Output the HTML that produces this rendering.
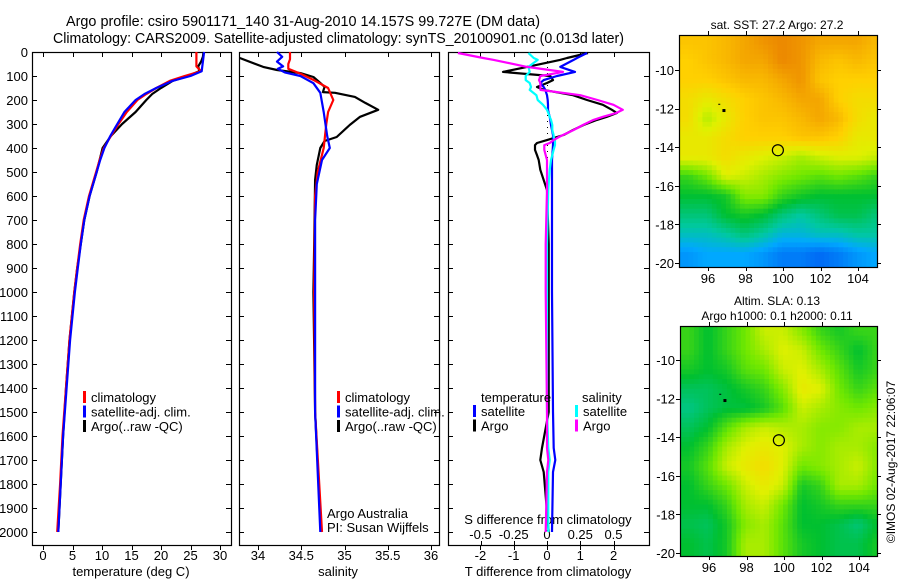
<!DOCTYPE html>
<html><head><meta charset="utf-8">
<style>
html,body{margin:0;padding:0;background:#fff;}
svg{display:block;font-family:"Liberation Sans",sans-serif;}
text{fill:#000;}
</style></head>
<body>
<svg id="fig" width="900" height="580" viewBox="0 0 900 580" xmlns="http://www.w3.org/2000/svg">
<text x="66" y="26" font-size="14.3" textLength="474" lengthAdjust="spacingAndGlyphs">Argo profile: csiro 5901171_140 31-Aug-2010 14.157S 99.727E (DM data)</text>
<text x="53" y="43" font-size="14.3" textLength="571" lengthAdjust="spacingAndGlyphs">Climatology: CARS2009. Satellite-adjusted climatology: synTS_20100901.nc (0.013d later)</text>
<g id="root"></g>
</svg>
<script>
// ---------- data ----------
const depthTicks = [0,100,200,300,400,500,600,700,800,900,1000,1100,1200,1300,1400,1500,1600,1700,1800,1900,2000];
const tempTicks = [0,5,10,15,20,25,30];
const salTicks = [34,34.5,35,35.5,36];
const salTickLabels = ["34","34.5","35","35.5","36"];
const tdiffTicks = [-2,-1,0,1,2];
const sdiffTicks = [-0.5,-0.25,0,0.25,0.5];
const sdiffTickLabels = ["-0.5","-0.25","0","0.25","0.5"];

const tDepth = [0,20,40,60,80,100,120,150,175,200,250,300,350,400,450,500,600,700,800,900,1000,1200,1400,1600,1800,2000];
const tempArgo = [27.2,27.1,26.8,26.3,26.5,24.5,22,20,18.5,17.5,15.7,13.4,11.5,10.1,9.6,9.1,7.9,7.0,6.4,5.8,5.3,4.5,3.9,3.4,3.0,2.6];
const tempClim = [26.0,26.0,26.0,26.0,26.8,24,21.5,19.2,17.5,16,14.2,12.8,11.5,10.3,9.6,9.0,7.8,6.9,6.3,5.8,5.3,4.5,3.9,3.3,2.9,2.4];
const tempSat  = [27.3,27.2,27.1,27.0,26.9,25,22,19.2,17.2,15.7,13.8,12.6,11.4,10.4,9.7,9.1,7.9,7.0,6.4,5.9,5.4,4.6,4.0,3.4,3.0,2.6];

const sArgoDepth = [25,62,75,88,104,129,145,167,170,187,212,241,270,304,354,371,400,470,533,800,1000,1500,2000];
const salArgo = [33.79,34.06,34.22,34.49,34.64,34.72,34.77,34.75,34.89,35.12,35.24,35.39,35.18,35.06,34.91,34.77,34.72,34.68,34.66,34.65,34.64,34.66,34.73];
const sClimDepth = [0,30,50,70,90,120,150,200,250,300,400,500,600,1000,1500,2000];
const salClim = [34.37,34.37,34.35,34.35,34.49,34.66,34.81,34.87,34.81,34.79,34.76,34.69,34.66,34.65,34.66,34.74];
const sSatDepth = [0,20,40,60,70,85,100,130,170,250,350,400,450,550,700,1500,2000];
const salSat = [34.22,34.28,34.22,34.29,34.23,34.31,34.49,34.64,34.72,34.76,34.80,34.83,34.74,34.68,34.66,34.66,34.72];

const dDepth = [4,25,33,62,83,100,117,129,146,158,180,200,220,241,254,270,283,304,325,346,354,367,379,388,408,430,450,491,575,800,1000,1500,1650,1700,1750,2000];
const sdiffArgo = [-0.67,-0.48,-0.4,-0.15,0.12,-0.05,-0.06,-0.05,-0.05,-0.05,0.25,0.38,0.5,0.57,0.52,0.42,0.35,0.27,0.2,0.12,0.09,0.05,0.02,-0.02,-0.02,-0.01,0,0,0,-0.01,-0.01,0,0,0.01,0,-0.01];
const sdiffSat = [-0.14,-0.1,-0.07,-0.14,-0.13,-0.16,-0.16,-0.13,-0.12,-0.13,-0.08,-0.07,-0.03,0,0.01,0.02,0.03,0.04,0.04,0.05,0.05,0.06,0.06,0.06,0.05,0.04,0.03,0.02,0.01,0,0,0,0.01,0.02,0.01,0.01];
const tdiffArgo = [1.23,0.6,0.39,-0.6,-1.32,0.1,0.18,0.0,-0.3,-0.1,0.78,1.2,1.68,1.95,2.1,1.8,1.5,1.1,0.78,0.5,0.3,0.0,-0.3,-0.36,-0.36,-0.3,-0.25,-0.2,0,0.05,0.05,0.05,-0.15,-0.2,-0.1,0.05];
const tdiffSat = [1.2,0.9,0.8,0.4,0.84,0.3,-0.1,-0.2,-0.1,-0.05,0,0.02,0.03,0.03,0.05,0.08,0.1,0.12,0.15,0.18,0.18,0.18,0.18,0.18,0.17,0.16,0.15,0.15,0.15,0.15,0.15,0.18,0.2,0.25,0.18,0.15];

const mapLats = [-8.5,-9.5,-10.5,-11.5,-12.5,-13.5,-14.5,-15.5,-16.5,-17.5,-18.5,-19.6];
const mapLons = [94.95,95.95,96.95,97.95,98.95,99.95,100.95,101.95,102.95,103.95,104.7];
const sstGrid = [
[0.80,0.80,0.82,0.85,0.88,0.90,0.88,0.85,0.85,0.85,0.82],
[0.78,0.80,0.82,0.85,0.85,0.90,0.88,0.82,0.80,0.82,0.80],
[0.78,0.78,0.80,0.82,0.82,0.85,0.88,0.80,0.78,0.78,0.78],
[0.75,0.72,0.75,0.78,0.80,0.82,0.85,0.85,0.78,0.75,0.75],
[0.75,0.66,0.72,0.78,0.80,0.80,0.82,0.85,0.82,0.75,0.72],
[0.72,0.72,0.75,0.78,0.78,0.78,0.80,0.80,0.78,0.72,0.72],
[0.72,0.72,0.75,0.72,0.70,0.68,0.65,0.68,0.70,0.70,0.68],
[0.55,0.60,0.70,0.68,0.65,0.62,0.60,0.58,0.60,0.58,0.55],
[0.50,0.50,0.52,0.62,0.62,0.55,0.52,0.50,0.50,0.50,0.50],
[0.45,0.45,0.50,0.52,0.50,0.45,0.42,0.45,0.48,0.48,0.45],
[0.40,0.40,0.42,0.45,0.42,0.38,0.38,0.40,0.40,0.42,0.42],
[0.33,0.35,0.35,0.35,0.33,0.30,0.30,0.28,0.30,0.33,0.35]];
const slaGrid = [
[0.55,0.50,0.55,0.60,0.68,0.68,0.62,0.55,0.52,0.55,0.55],
[0.55,0.50,0.55,0.60,0.65,0.70,0.68,0.60,0.55,0.50,0.55],
[0.52,0.50,0.52,0.58,0.60,0.68,0.70,0.65,0.58,0.52,0.55],
[0.47,0.47,0.49,0.52,0.55,0.62,0.72,0.70,0.60,0.55,0.58],
[0.44,0.47,0.49,0.49,0.52,0.58,0.68,0.65,0.62,0.60,0.62],
[0.47,0.50,0.58,0.65,0.68,0.66,0.65,0.62,0.62,0.65,0.65],
[0.50,0.55,0.65,0.70,0.72,0.70,0.65,0.62,0.65,0.65,0.62],
[0.52,0.58,0.68,0.72,0.75,0.70,0.60,0.62,0.65,0.68,0.62],
[0.50,0.55,0.60,0.68,0.72,0.68,0.52,0.55,0.65,0.65,0.60],
[0.50,0.50,0.55,0.65,0.68,0.60,0.50,0.52,0.55,0.55,0.55],
[0.48,0.47,0.52,0.62,0.65,0.58,0.50,0.50,0.48,0.45,0.50],
[0.50,0.48,0.52,0.65,0.65,0.58,0.52,0.50,0.48,0.48,0.52]];
const mapLonTicks = [96,98,100,102,104];
const mapLatTicks = [-10,-12,-14,-16,-18,-20];
const argoPos = [99.727,-14.157];

// ---------- helpers ----------
const NS = "http://www.w3.org/2000/svg";
const root = document.getElementById('root');
function mk(tag, attrs, parent){
  const e = document.createElementNS(NS, tag);
  for (const k in attrs) e.setAttribute(k, attrs[k]);
  (parent||root).appendChild(e);
  return e;
}
function txt(x,y,s,size,anchor,parent){
  const t = mk('text',{x:x,y:y,'font-size':size,'text-anchor':anchor||'start'},parent);
  t.textContent = s; return t;
}
const yD = d => 52 + d*0.24;

function profileFrame(x0,x1,name){
  const g = mk('g',{});
  
  
  mk('rect',{x:x0+0.5,y:52.5,width:x1-x0,height:493,fill:'none',stroke:'#000','stroke-width':1.2},g);
  depthTicks.forEach(d=>{
    const y=Math.round(yD(d))+0.5;
    mk('line',{x1:x0,x2:x0+5,y1:y,y2:y,stroke:'#000'},g);
    mk('line',{x1:x1-5,x2:x1,y1:y,y2:y,stroke:'#000'},g);
  });
  return g;
}
function line(xs, ds, xf, color, name, w){
  const pts = xs.map((v,i)=>xf(v).toFixed(1)+','+yD(ds[i]).toFixed(1)).join(' ');
  const p = mk('polyline',{points:pts,fill:'none',stroke:color,'stroke-width':w||2.2,'stroke-linejoin':'round'});
  
  
}
function legend(x,y,items,g){
  items.forEach((it,i)=>{
    mk('rect',{x:x,y:y+i*14.5-11,width:3,height:12,fill:it[1]},g);
    txt(x+8,y+i*14.5,it[0],13,'start',g);
  });
}

// ---------- panel 1: temperature ----------
const xT = t => 43 + t*5.9;
const p1 = profileFrame(32,231,'temperature-panel');
depthTicks.forEach(d=>{ txt(28, yD(d)+5, String(d), 13, 'end', p1); });
tempTicks.forEach(t=>{
  const x=Math.round(xT(t))+0.5;
  mk('line',{x1:x,x2:x,y1:545,y2:550,stroke:'#000'},p1);
  mk('line',{x1:x,x2:x,y1:52,y2:57,stroke:'#000'},p1);
  txt(xT(t),560,String(t),13,'middle',p1);
});
txt(131,576,'temperature (deg C)',13,'middle',p1);
line(tempArgo,tDepth,xT,'#000','temp-argo-line');
line(tempClim,tDepth,xT,'#f00','temp-climatology-line');
line(tempSat,tDepth,xT,'#00f','temp-satellite-line');
const lg1 = mk('g',{});


legend(83,402,[['climatology','#f00'],['satellite-adj. clim.','#00f'],['Argo(..raw -QC)','#000']],lg1);

// ---------- panel 2: salinity ----------
const xS = s => 258 + (s-34)*86.5;
const p2 = profileFrame(239,439,'salinity-panel');
salTicks.forEach((s,i)=>{
  const x=Math.round(xS(s))+0.5;
  mk('line',{x1:x,x2:x,y1:545,y2:550,stroke:'#000'},p2);
  mk('line',{x1:x,x2:x,y1:52,y2:57,stroke:'#000'},p2);
  txt(xS(s),560,salTickLabels[i],13,'middle',p2);
});
txt(338,576,'salinity',13,'middle',p2);
line(salArgo,sArgoDepth,xS,'#000','salinity-argo-line');
line(salClim,sClimDepth,xS,'#f00','salinity-climatology-line');
line(salSat,sSatDepth,xS,'#00f','salinity-satellite-line');
const lg2 = mk('g',{});


legend(337,402,[['climatology','#f00'],['satellite-adj. clim.','#00f'],['Argo(..raw -QC)','#000']],lg2);
txt(327,518,'Argo Australia',13,'start',p2);
txt(327,532,'PI: Susan Wijffels',13,'start',p2);

// ---------- panel 3: differences ----------
const xTd = v => 547 + v*33.3;
const xSd = v => 547 + v*133;
const p3 = profileFrame(448,649,'difference-panel');
tdiffTicks.forEach(v=>{
  const x=Math.round(xTd(v))+0.5;
  mk('line',{x1:x,x2:x,y1:545,y2:550,stroke:'#000'},p3);
  mk('line',{x1:x,x2:x,y1:52,y2:57,stroke:'#000'},p3);
  txt(xTd(v),560,String(v),13,'middle',p3);
});
sdiffTicks.forEach((v,i)=>{
  const x=Math.round(xSd(v))+0.5;
  mk('line',{x1:x,x2:x,y1:541,y2:545,stroke:'#000'},p3);
  txt(xSd(v),539,sdiffTickLabels[i],13,'middle',p3);
});
txt(548,524,'S difference from climatology',13,'middle',p3);
txt(548,576,'T difference from climatology',13,'middle',p3);
mk('line',{x1:547.5,x2:547.5,y1:55,y2:300,stroke:'#000','stroke-dasharray':'1,5'},p3);
line(tdiffArgo,dDepth,xTd,'#000','tdiff-argo-line');
line(tdiffSat,dDepth,xTd,'#00f','tdiff-satellite-line');
line(sdiffSat,dDepth,xSd,'#00ffff','sdiff-satellite-line');
line(sdiffArgo,dDepth,xSd,'#ff00ff','sdiff-argo-line');
const lg3 = mk('g',{});


txt(481,402,'temperature',13,'start',lg3);
txt(582,402,'salinity',13,'start',lg3);
legend(473,416,[['satellite','#00f'],['Argo','#000']],lg3);
legend(575,416,[['satellite','#00ffff'],['Argo','#ff00ff']],lg3);

// ---------- maps ----------
const cstops = [[0.25,[0,80,240]],[0.35,[0,168,255]],[0.42,[0,200,160]],[0.5,[0,192,48]],[0.6,[112,232,0]],[0.7,[224,240,0]],[0.78,[255,208,0]],[0.9,[236,136,0]]];
function cmap(v){
  if(v<=cstops[0][0]) return 'rgb('+cstops[0][1]+')';
  for(let i=1;i<cstops.length;i++){
    if(v<=cstops[i][0]){
      const a=cstops[i-1],b=cstops[i],f=(v-a[0])/(b[0]-a[0]);
      return 'rgb('+a[1].map((c,k)=>Math.round(c+(b[1][k]-c)*f)).join(',')+')';
    }
  }
  return 'rgb('+cstops[cstops.length-1][1]+')';
}
function sample(grid,lon,lat){
  const fi = Math.max(0,Math.min(mapLats.length-1.001,(mapLats[0]-lat)/1.0));
  const fj = Math.max(0,Math.min(mapLons.length-1.001,(lon-mapLons[0])/1.0));
  const i=Math.floor(fi), j=Math.floor(fj), di=fi-i, dj=fj-j;
  const a=grid[i][j],b=grid[i][j+1],c=grid[i+1][j],d=grid[i+1][j+1];
  return a*(1-di)*(1-dj)+b*(1-di)*dj+c*di*(1-dj)+d*di*dj;
}
function drawMap(name,grid,left,right,top,bottom,lon96x,latm10y,titles){
  const g = mk('g',{});
  
  
  const px = 18.75, py = 19.3;
  const X = lon => lon96x + (lon-96)*px;
  const Y = lat => latm10y + (-10-lat)*py;
  const step = 0.25;
  const lon0 = 96 - (lon96x-left)/px, lat0 = -10 + (latm10y-top)/py;
  for(let la=lat0; la>-20.3; la-=step){
    for(let lo=lon0; lo<105.1; lo+=step){
      const x=X(lo), y=Y(la);
      const w=Math.min(step*px+0.6, right-x), h=Math.min(step*py+0.6, bottom-y);
      if(w<=0||h<=0) continue;
      mk('rect',{x:x.toFixed(1),y:y.toFixed(1),width:w.toFixed(1),height:h.toFixed(1),fill:cmap(sample(grid,lo+step/2,la-step/2))},g);
    }
  }
  mk('rect',{x:left+0.5,y:top+0.5,width:right-left,height:bottom-top,fill:'none',stroke:'#000','stroke-width':1.2},g);
  mapLonTicks.forEach(l=>{
    const x=Math.round(X(l))+0.5;
    mk('line',{x1:x,x2:x,y1:top-4,y2:top,stroke:'#000'},g);
    mk('line',{x1:x,x2:x,y1:bottom,y2:bottom+4,stroke:'#000'},g);
    txt(X(l),bottom+16,String(l),13,'middle',g);
  });
  mapLatTicks.forEach(l=>{
    const y=Math.round(Y(l))+0.5;
    mk('line',{x1:left-4,x2:left,y1:y,y2:y,stroke:'#000'},g);
    mk('line',{x1:right,x2:right+4,y1:y,y2:y,stroke:'#000'},g);
    txt(left-5,Y(l)+5,String(l),13,'end',g);
  });
  titles.forEach((t,i)=>txt(777,top-6-(titles.length-1-i)*15,t,12,'middle',g));
  const c = mk('circle',{cx:X(argoPos[0]),cy:Y(argoPos[1]),r:5.5,fill:'none',stroke:'#000','stroke-width':1.2},g);
  
  
  mk('rect',{x:X(96.85)-1.5,y:Y(-12.1)-1.5,width:3,height:3,fill:'#000'},g);
  mk('rect',{x:X(96.6)-1,y:Y(-11.75),width:2,height:1,fill:'#000'},g);
}
drawMap('sst-map',sstGrid,679,877,35,267,708,70,['sat. SST: 27.2 Argo: 27.2']);
drawMap('sla-map',slaGrid,680,877,326,556,709,360,['Altim. SLA: 0.13','Argo h1000: 0.1 h2000: 0.11']);

const stamp = txt(0,0,'©IMOS 02-Aug-2017 22:06:07',12,'middle');
stamp.setAttribute('transform','translate(895,462) rotate(-90)');


</script>
</body></html>
